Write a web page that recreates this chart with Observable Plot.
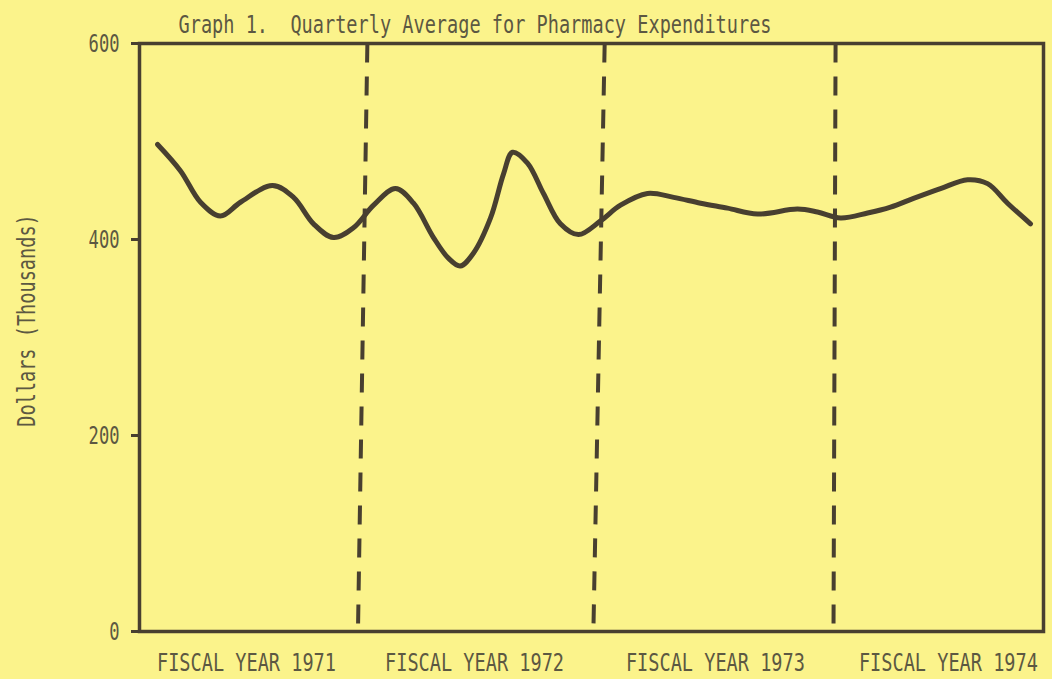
<!DOCTYPE html>
<html>
<head>
<meta charset="utf-8">
<script src="https://cdn.jsdelivr.net/npm/d3@7"></script>
<script src="https://cdn.jsdelivr.net/npm/@observablehq/plot@0.6"></script>
<style>
  html, body { margin: 0; padding: 0; background: #fbf38b; }
  #chart svg { display: block; }
  #chart svg text { font-size: 25px; }
</style>
</head>
<body>
<div id="chart"></div>
<script>
// ---- Data (x in months from start of FY1971, y in thousands of dollars) ----
const monthPos = [0.96, 2.18, 3.24, 4.30, 5.36, 7.06, 8.18, 9.24, 10.30, 11.36, 12.43, 13.59, 14.55, 15.61, 16.40, 17.03, 17.73, 18.64, 19.33, 19.81, 20.60, 21.45, 22.35, 23.31, 24.48, 25.54, 26.97, 28.36, 29.79, 31.22, 32.82, 34.94, 36.00, 37.22, 38.66, 39.88, 41.10, 42.53, 43.97, 45.03, 46.09, 47.31];
const expenditures = [497, 470, 438, 424, 438, 455, 443, 416, 402, 412, 435, 452, 437, 402, 381, 373, 386, 422, 467, 489, 478, 447, 416, 405, 419, 435, 447, 443, 437, 432, 426, 431, 428, 422, 427, 433, 442, 452, 461, 457, 437, 416];

const fiscalYears = ["FISCAL YEAR 1971", "FISCAL YEAR 1972", "FISCAL YEAR 1973", "FISCAL YEAR 1974"];
const fiscalLabelPos = [5.68, 17.79, 30.58, 42.95];

// fiscal-year boundaries (as drawn: top end, bottom end)
const boundaryTop = [12.1, 24.7, 36.96];
const boundaryBottom = [11.6, 24.1, 36.85];

const yTicks = [0, 200, 400, 600];
const titleText = "Graph 1.  Quarterly Average for Pharmacy Expenditures";
const yLabelText = "Dollars (Thousands)";

// ---- Build tables ----
const series = monthPos.map((m, i) => ({month: m, value: expenditures[i]}));
const labels = fiscalYears.map((t, i) => ({text: t, month: fiscalLabelPos[i]}));
const bounds = boundaryTop.map((t, i) => ({top: t, bottom: boundaryBottom[i]}));

const ink = "#483f30";
const textInk = "#5c5842";
const bg = "#fbf38b";

const chart = Plot.plot({
  width: 1052,
  height: 679,
  marginLeft: 139,
  marginRight: 9,
  marginTop: 43,
  marginBottom: 48,
  style: {background: bg, color: textInk, fontFamily: "'DejaVu Sans Mono', monospace", fontSize: "25px"},
  x: {domain: [0, 48], axis: null},
  y: {domain: [0, 600]},
  marks: [
    Plot.axisY({
      ticks: yTicks,
      tickSize: 8,
      tickPadding: 12,
      strokeWidth: 3,
      stroke: ink,
      fill: textInk,
      label: null
    }),
    Plot.link(bounds, {
      x1: "top", x2: "bottom", y1: () => 600, y2: () => 0,
      stroke: ink, strokeWidth: 4, strokeDasharray: "19,14"
    }),
    Plot.line(series, {
      x: "month", y: "value", curve: "catmull-rom",
      stroke: ink, strokeWidth: 5, strokeLinejoin: "round", strokeLinecap: "round"
    }),
    Plot.frame({stroke: ink, strokeWidth: 3.5}),
    Plot.text(labels, {
      x: "month", y: () => 0, text: "text", dy: 31,
      lineAnchor: "middle", textAnchor: "middle",
      fill: textInk, ariaLabel: "fy-label"
    }),
    Plot.text([titleText], {
      frameAnchor: "top-left", dx: 39, dy: -19,
      textAnchor: "start", lineAnchor: "middle",
      fill: textInk, ariaLabel: "title-label"
    }),
    Plot.text([yLabelText], {
      frameAnchor: "left", dx: -113, dy: -17, rotate: -90,
      textAnchor: "middle", lineAnchor: "middle",
      fill: textInk, ariaLabel: "ylabel"
    })
  ]
});

document.getElementById("chart").appendChild(chart);

// condense the typewriter-like lettering to its drawn advance width
d3.select(chart).selectAll("text").each(function () {
  this.style.whiteSpace = "pre";
  const t = this.textContent;
  if (!t) return;
  const perChar = (t.length <= 3) ? 10.3 : 11.2;
  const natural = this.getComputedTextLength();
  if (!natural) return;
  const s = (t.length * perChar) / natural;
  const tr = this.getAttribute("transform");
  if (tr) {
    this.setAttribute("transform", tr + ` scale(${s.toFixed(3)},1)`);
  } else {
    const x = +this.getAttribute("x") || 0;
    const y = +this.getAttribute("y") || 0;
    this.setAttribute("transform", `translate(${x},${y}) scale(${s.toFixed(3)},1) translate(${-x},${-y})`);
  }
});
</script>
</body>
</html>
